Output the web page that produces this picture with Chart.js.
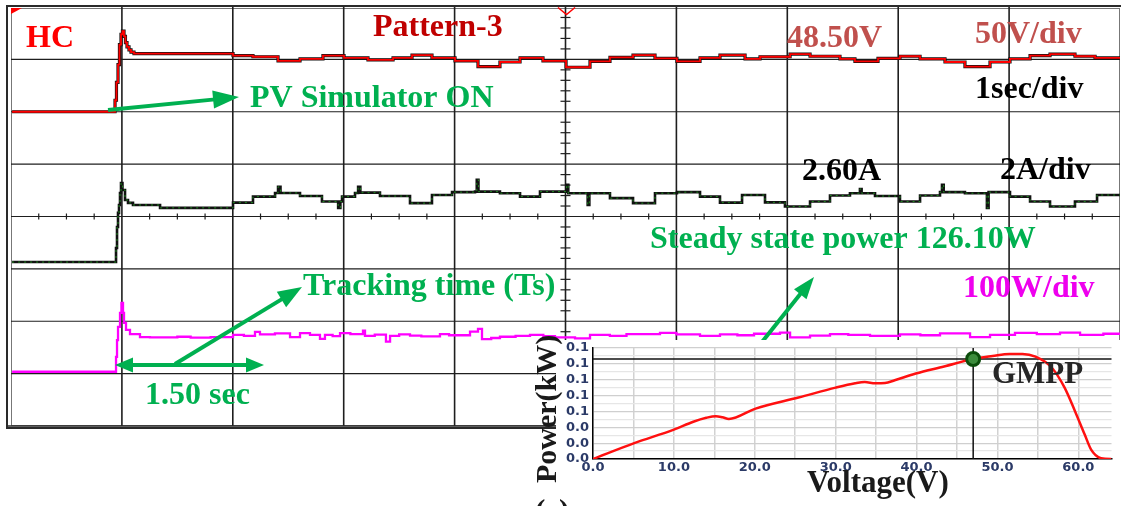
<!DOCTYPE html>
<html>
<head>
<meta charset="utf-8">
<script src="https://cdn.jsdelivr.net/npm/chart.js@4.4.1/dist/chart.umd.min.js"></script>
<style>
  html, body { margin: 0; padding: 0; background: #fff; }
  #wrap { position: relative; width: 1121px; height: 506px; overflow: hidden; background: #fff; }
  #scope { position: absolute; left: 0; top: 0; }
  #pv { position: absolute; left: 527px; top: 318px; }
</style>
</head>
<body>
<div id="wrap">
  <canvas id="scope" width="1121" height="506"></canvas>
  <canvas id="pv" width="594" height="188"></canvas>
</div>
<script>
// ---- Oscilloscope record: [time (s), value] samples, held until the next sample ----
const voltageV = [
  [0.01, 0], [0.938, 11], [0.951, 28], [0.965, 45], [0.978, 64], [0.992, 74], [1.005, 77],
  [1.019, 72], [1.032, 66], [1.046, 62], [1.064, 59], [1.082, 57], [1.109, 55.5],
  [2.002, 53.5], [2.182, 52.5], [2.408, 48.5], [2.606, 50.5], [2.813, 53.5], [3.003, 51.5],
  [3.219, 49.5], [3.445, 51.5], [3.616, 54], [3.796, 51.5], [4.004, 48.5], [4.211, 43],
  [4.409, 47.5], [4.590, 51.5], [4.797, 48.5], [5.005, 42.5], [5.221, 48], [5.401, 52],
  [5.609, 54], [5.807, 51], [6.005, 48], [6.213, 51.5], [6.393, 54], [6.619, 50.5],
  [6.754, 52.5], [7.025, 55], [7.205, 53], [7.475, 50.5], [7.610, 48], [7.818, 51],
  [8.016, 53], [8.197, 50.5], [8.422, 47.5], [8.602, 43], [8.828, 47.5], [9.008, 50.5],
  [9.189, 53.5], [9.369, 55], [9.594, 53], [9.775, 51.5], [10.0, 51.5]
];

const currentA = [
  [0.01, 0.26], [0.947, 0.80], [0.956, 1.60], [0.965, 2.14], [0.974, 2.44], [0.983, 2.90],
  [0.992, 3.28], [1.005, 3.01], [1.028, 2.63], [1.055, 2.52], [1.100, 2.44], [1.344, 2.33],
  [2.002, 2.53], [2.182, 2.76], [2.381, 2.90], [2.408, 3.13], [2.43, 2.90], [2.606, 2.78],
  [2.804, 2.57], [2.95, 2.33], [2.97, 2.57], [2.985, 2.76], [3.102, 2.90], [3.13, 3.13],
  [3.15, 2.91], [3.327, 2.78], [3.598, 2.51], [3.796, 2.82], [3.977, 2.93], [4.184, 2.95],
  [4.20, 3.40], [4.215, 2.95], [4.409, 2.89], [4.590, 2.76], [4.770, 2.95], [5.01, 3.21],
  [5.025, 2.89], [5.20, 2.44], [5.215, 2.89], [5.401, 2.70], [5.609, 2.51], [5.807, 2.89],
  [6.005, 2.93], [6.213, 2.76], [6.393, 2.53], [6.592, 2.82], [6.799, 2.54], [6.979, 2.38],
  [7.205, 2.57], [7.385, 2.80], [7.565, 2.89], [7.655, 3.05], [7.67, 2.89], [7.791, 2.78],
  [8.016, 2.57], [8.197, 2.80], [8.377, 2.93], [8.395, 3.21], [8.41, 2.93], [8.602, 2.89],
  [8.80, 2.33], [8.815, 2.93], [9.008, 2.76], [9.189, 2.57], [9.369, 2.38], [9.594, 2.57],
  [9.793, 2.82], [10.0, 2.82]
];

const powerW = [
  [0.01, 0], [0.947, 49], [0.956, 105], [0.965, 149], [0.983, 195], [0.996, 228], [1.010, 195],
  [1.019, 162], [1.037, 139], [1.073, 125], [1.163, 115], [1.253, 114], [1.50, 116], [1.62, 113],
  [1.80, 115], [2.002, 122], [2.10, 119], [2.200, 132], [2.245, 124], [2.38, 127], [2.516, 115],
  [2.606, 128], [2.696, 122], [2.786, 109], [2.831, 122], [2.90, 118], [2.967, 128], [3.06, 125],
  [3.174, 136], [3.192, 119], [3.28, 123], [3.381, 100], [3.418, 119], [3.50, 124], [3.598, 120],
  [3.70, 117], [3.868, 125], [3.95, 121], [4.139, 133], [4.211, 142], [4.247, 108], [4.33, 112],
  [4.409, 116], [4.55, 119], [4.680, 122], [4.80, 118], [4.905, 114], [5.086, 111], [5.221, 122],
  [5.40, 119], [5.55, 125], [5.852, 129], [6.00, 124], [6.213, 119], [6.393, 124], [6.55, 121],
  [6.70, 126], [6.934, 130], [7.025, 114], [7.205, 120], [7.385, 125], [7.55, 122], [7.746, 119],
  [8.016, 124], [8.20, 121], [8.377, 127], [8.648, 115], [8.828, 122], [9.053, 129], [9.25, 125],
  [9.459, 130], [9.640, 122], [9.85, 126], [10.0, 124]
];

// ---- Panel readings ----
const voltageReading = 48.50;   // V
const currentReading = 2.60;    // A
const steadyPowerW = 126.10;    // W
const trackingTimeS = 1.50;     // s

// ---- P-V characteristic of the PV simulator: [voltage (V), power (kW)] ----
const pvCurve = [
  [0, 0], [5.1, 0.020], [10.0, 0.037], [12.4, 0.047], [14.0, 0.052], [15.2, 0.054],
  [16.0, 0.0526], [16.8, 0.0505], [20.1, 0.0636], [25.4, 0.0775], [30.0, 0.090],
  [32.4, 0.0955], [33.6, 0.0971], [34.9, 0.0955], [36.1, 0.0958], [37.3, 0.0993],
  [39.9, 0.1078], [43.4, 0.1167], [47.0, 0.1261], [49.4, 0.1298], [51.5, 0.1324],
  [53.1, 0.1324], [54.7, 0.129], [56.7, 0.1154], [58.3, 0.090], [59.6, 0.060],
  [60.8, 0.0305], [61.6, 0.0115], [62.8, 0.001], [64.0, 0], [64.1, 0]
];
const gmppVoltage = 47.0;       // V

const toXY = a => a.map(([x, y]) => ({ x, y }));
const GREEN = '#00b050';
const SERIF = '"Liberation Serif", "Times New Roman", serif';

function drawArrow(ctx, x1, y1, x2, y2, len, half, width, both) {
  const ang = Math.atan2(y2 - y1, x2 - x1);
  const c = Math.cos(ang), s = Math.sin(ang);
  const head = (tx, ty, dir) => {
    const bx = tx - dir * c * len, by = ty - dir * s * len;
    ctx.beginPath();
    ctx.moveTo(tx, ty);
    ctx.lineTo(bx - s * half, by + c * half);
    ctx.lineTo(bx + s * half, by - c * half);
    ctx.closePath();
    ctx.fill();
  };
  const sx = both ? x1 + c * (len - 2) : x1, sy = both ? y1 + s * (len - 2) : y1;
  ctx.lineWidth = width;
  ctx.beginPath();
  ctx.moveTo(sx, sy);
  ctx.lineTo(x2 - c * (len - 2), y2 - s * (len - 2));
  ctx.stroke();
  head(x2, y2, 1);
  if (both) head(x1, y1, -1);
}

// Graticule, frame and annotations of the scope screen
const scopeScreen = {
  id: 'scopeScreen',
  beforeDatasetsDraw(chart) {
    const { ctx, chartArea: a, scales } = chart;
    const x = scales.x, yV = scales.yV;
    ctx.save();
    // outer frame
    ctx.strokeStyle = '#2a2a2a';
    ctx.lineWidth = 2;
    ctx.strokeRect(7, 6, 1116, 422);
    ctx.strokeStyle = '#777';
    ctx.lineWidth = 1;
    ctx.strokeRect(a.left + 0.5, a.top + 1.5, a.right - a.left - 1, a.bottom - a.top - 2);
    // major divisions
    ctx.strokeStyle = '#1e1e1e';
    ctx.lineWidth = 1.6;
    for (let t = 1; t < 10; t++) {
      const px = x.getPixelForValue(t);
      ctx.beginPath(); ctx.moveTo(px, a.top); ctx.lineTo(px, a.bottom); ctx.stroke();
    }
    ctx.lineWidth = 1.2;
    for (let v = -250; v < 100; v += 50) {
      const py = yV.getPixelForValue(v);
      ctx.beginPath(); ctx.moveTo(a.left, py); ctx.lineTo(a.right, py); ctx.stroke();
    }
    // minor ticks along the centre lines
    const cx = x.getPixelForValue(5), cy = yV.getPixelForValue(-100);
    ctx.lineWidth = 1.2;
    for (let v = -300; v <= 100; v += 10) {
      if (v % 50 === 0) continue;
      const py = yV.getPixelForValue(v);
      ctx.beginPath(); ctx.moveTo(cx - 5, py); ctx.lineTo(cx + 5, py); ctx.stroke();
    }
    for (let t = 0; t <= 10; t += 0.25) {
      if (Math.abs(t - Math.round(t)) < 1e-6) continue;
      const px = x.getPixelForValue(t);
      ctx.beginPath(); ctx.moveTo(px, cy - 3); ctx.lineTo(px, cy + 3); ctx.stroke();
    }
    ctx.strokeStyle = '#2a2a2a';
    ctx.lineWidth = 1.5;
    ctx.beginPath(); ctx.moveTo(7, 426); ctx.lineTo(1121, 426); ctx.stroke();
    ctx.restore();
  },
  afterDatasetsDraw(chart) {
    const { ctx } = chart;
    ctx.save();
    // channel / trigger markers
    ctx.fillStyle = '#ff0000';
    ctx.beginPath(); ctx.moveTo(11, 8); ctx.lineTo(22, 8); ctx.lineTo(11, 14); ctx.closePath(); ctx.fill();
    ctx.strokeStyle = '#ff0000';
    ctx.lineWidth = 1.5;
    ctx.beginPath(); ctx.moveTo(558, 7.5); ctx.lineTo(566.5, 14.5); ctx.lineTo(575, 7.5); ctx.stroke();

    // arrows
    ctx.strokeStyle = GREEN;
    ctx.fillStyle = GREEN;
    ctx.lineCap = 'butt';
    drawArrow(ctx, 108, 110, 239, 97, 26, 9, 4, false);
    drawArrow(ctx, 175, 364, 302, 287, 24, 9, 4, false);
    drawArrow(ctx, 115, 365, 264, 365, 18, 7.5, 4, true);
    drawArrow(ctx, 762, 342, 814, 277, 22, 8, 4, false);

    // labels
    ctx.font = 'bold 32px ' + SERIF;
    ctx.textBaseline = 'alphabetic';
    ctx.textAlign = 'left';
    const labels = [
      ['HC', 26, 47, '#ff0000'],
      ['Pattern-3', 373, 36, '#c00000'],
      [voltageReading.toFixed(2) + 'V', 787, 47, '#c0504d'],
      ['50V/div', 975, 43, '#c0504d'],
      ['PV Simulator ON', 250, 107, GREEN],
      ['1sec/div', 975, 98, '#000'],
      [currentReading.toFixed(2) + 'A', 802, 180, '#000'],
      ['2A/div', 1000, 179, '#000'],
      ['Steady state power ' + steadyPowerW.toFixed(2) + 'W', 650, 248, GREEN],
      ['100W/div', 963, 297, '#ee00ee'],
      ['Tracking time (Ts)', 303, 295, GREEN],
      [trackingTimeS.toFixed(2) + ' sec', 145, 404, GREEN]
    ];
    for (const [txt, lx, ly, col] of labels) {
      ctx.fillStyle = col;
      ctx.fillText(txt, lx, ly);
    }
    ctx.restore();
  }
};

new Chart(document.getElementById('scope'), {
  type: 'line',
  data: {
    datasets: [
      { label: 'Voltage', data: toXY(voltageV), yAxisID: 'yV', borderColor: '#ff0000', borderWidth: 1.8, stepped: true, pointRadius: 0, order: 0 },
      { label: 'Voltage trace', data: toXY(voltageV), yAxisID: 'yV', borderColor: '#111', borderWidth: 3.2, stepped: true, pointRadius: 0, order: 1 },
      { label: 'Current', data: toXY(currentA), yAxisID: 'yA', borderColor: '#1f8a1f', borderWidth: 1, borderDash: [2, 4], stepped: true, pointRadius: 0, order: 0 },
      { label: 'Current trace', data: toXY(currentA), yAxisID: 'yA', borderColor: '#111', borderWidth: 2.6, stepped: true, pointRadius: 0, order: 1 },
      { label: 'Power', data: toXY(powerW), yAxisID: 'yP', borderColor: '#ff00ff', borderWidth: 2.3, stepped: true, pointRadius: 0, order: 0 }
    ]
  },
  options: {
    responsive: false,
    animation: false,
    devicePixelRatio: 1,
    layout: { padding: { left: 11, top: 7, right: 1, bottom: 80 } },
    plugins: { legend: { display: false }, tooltip: { enabled: false } },
    scales: {
      x: { type: 'linear', min: 0, max: 10, display: false },
      yV: { type: 'linear', min: -300, max: 100, display: false },
      yA: { type: 'linear', min: -6, max: 10, display: false },
      yP: { type: 'linear', min: -180, max: 1210, display: false }
    }
  },
  plugins: [scopeScreen]
});

// P-V inset: white panel, cross-hair at the GMPP and captions
const pvPanel = {
  id: 'pvPanel',
  beforeDraw(chart) {
    const { ctx, width, height } = chart;
    ctx.save();
    ctx.fillStyle = '#fff';
    ctx.fillRect(29, 22, width - 29, height - 22);
    ctx.restore();
  },
  beforeDatasetsDraw(chart) {
    const { ctx, chartArea: a, scales } = chart;
    const px = scales.x.getPixelForValue(gmppVoltage);
    const py = scales.y.getPixelForValue(steadyPowerW / 1000);
    ctx.save();
    ctx.strokeStyle = '#111';
    ctx.lineWidth = 1.5;
    ctx.beginPath(); ctx.moveTo(a.left, py); ctx.lineTo(a.right, py); ctx.stroke();
    ctx.beginPath(); ctx.moveTo(px, a.top); ctx.lineTo(px, a.bottom); ctx.stroke();
    ctx.restore();
  },
  afterDraw(chart) {
    const { ctx } = chart;
    ctx.save();
    ctx.fillStyle = '#262626';
    ctx.font = 'bold 31px ' + SERIF;
    ctx.textAlign = 'left';
    ctx.textBaseline = 'alphabetic';
    ctx.fillText('GMPP', 465, 65);
    ctx.fillStyle = '#1a1a1a';
    ctx.fillText('Voltage(V)', 280, 174);
    ctx.fillText('(c)', 8, 203);
    ctx.translate(29, 165);
    ctx.rotate(-Math.PI / 2);
    ctx.font = 'bold 30px ' + SERIF;
    ctx.fillText('Power(kW)', 0, 0);
    ctx.restore();
  }
};

const tickFont = { family: 'DejaVu Sans', size: 13, weight: 'bold' };
new Chart(document.getElementById('pv'), {
  type: 'line',
  data: {
    datasets: [
      { label: 'GMPP', data: [{ x: gmppVoltage, y: steadyPowerW / 1000 }], showLine: false,
        pointRadius: 6.5, pointBorderWidth: 3, pointBackgroundColor: '#3c8c3c', pointBorderColor: '#0b4d0b', order: 0 },
      { label: 'P-V', data: toXY(pvCurve), borderColor: '#ff1010', borderWidth: 2.5, pointRadius: 0,
        cubicInterpolationMode: 'monotone', order: 1 }
    ]
  },
  options: {
    responsive: false,
    animation: false,
    devicePixelRatio: 1,
    layout: { padding: { left: 0, top: 30, right: 0, bottom: 0 } },
    plugins: { legend: { display: false }, tooltip: { enabled: false } },
    scales: {
      x: {
        type: 'linear', min: 0, max: 64.1,
        afterFit: s => { s.height = 47; },
        border: { color: '#000', width: 1.5 },
        grid: { drawTicks: false, color: '#d2d2d2', lineWidth: 1.5 },
        ticks: {
          stepSize: 5, includeBounds: false, autoSkip: false, maxRotation: 0, padding: 1,
          color: '#2b3a67', font: tickFont,
          callback: v => (Math.round(v) % 10 === 0 ? v.toFixed(1) : '')
        }
      },
      y: {
        type: 'linear', min: 0, max: 0.14,
        afterFit: s => { s.width = 66; },
        border: { color: '#000', width: 1.5 },
        grid: {
          drawTicks: false,
          color: c => (Math.round(c.tick.value * 100) % 2 === 0 ? '#cfcfcf' : '#e6e6e6'),
          lineWidth: 1.2
        },
        ticks: {
          stepSize: 0.01, autoSkip: false, padding: 4, color: '#2b3a67', font: tickFont,
          callback: v => (Math.round(v * 100) % 2 === 0 ? v.toFixed(1) : '')
        }
      }
    }
  },
  plugins: [pvPanel]
});
</script>
</body>
</html>
